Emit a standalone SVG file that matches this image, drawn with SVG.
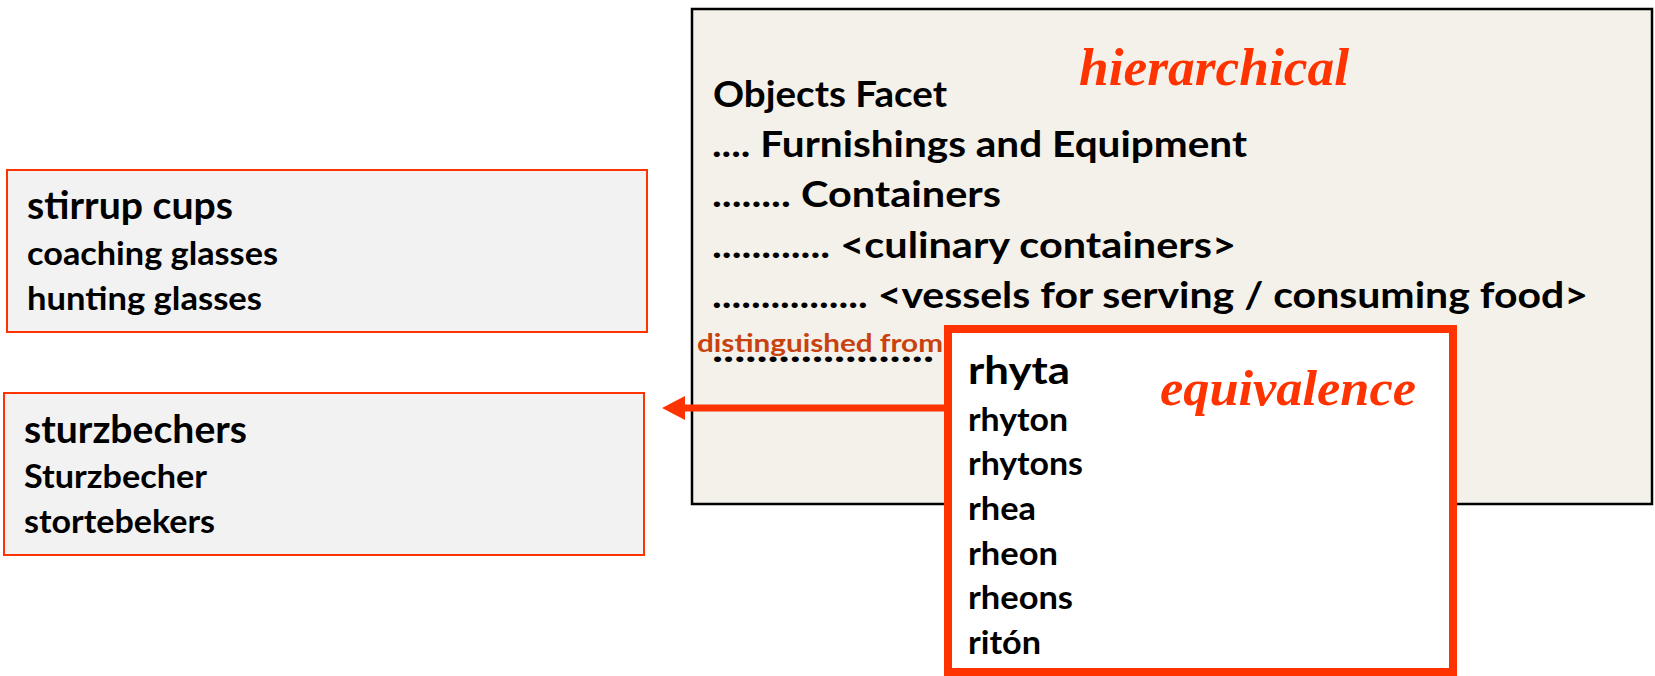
<svg xmlns="http://www.w3.org/2000/svg" width="1655" height="676" viewBox="0 0 1655 676">
<style>
.t{font-family:Lato,"Liberation Sans",sans-serif;font-weight:700;fill:#000}
.big{font-size:37px}
.ttl{font-size:39px}
.sub{font-size:33px}
.it{font-family:"Liberation Serif",serif;font-style:italic;font-weight:700;fill:#FF3300}
.side{fill:#F2F2F2;stroke:#FF3300;stroke-width:2}
</style>
<defs>
<marker id="ah" markerUnits="userSpaceOnUse" markerWidth="24" markerHeight="26" refX="1" refY="12" orient="auto">
<path d="M0,0 L23,12 L0,24 Z" fill="#FF3300"/>
</marker>
</defs>
<rect width="1655" height="676" fill="#fff"/>
<g id="hierarchy">
<rect x="692" y="9" width="960" height="495" fill="#F4F1EA" stroke="#000" stroke-width="2.5"/>
<text class="it" x="1079" y="85" font-size="52" textLength="270" lengthAdjust="spacingAndGlyphs">hierarchical</text>
<text class="t big" x="713" y="107" textLength="234" lengthAdjust="spacingAndGlyphs">Objects Facet</text>
<text class="t big" x="712" y="157" textLength="535" lengthAdjust="spacingAndGlyphs">.... Furnishings and Equipment</text>
<text class="t big" x="712" y="207" textLength="289" lengthAdjust="spacingAndGlyphs">........ Containers</text>
<text class="t big" x="712" y="258" textLength="524" lengthAdjust="spacingAndGlyphs">............ &lt;culinary containers&gt;</text>
<text class="t big" x="712" y="308" textLength="876" lengthAdjust="spacingAndGlyphs">................ &lt;vessels for serving / consuming food&gt;</text>
<text class="t big" x="712" y="362" textLength="222" lengthAdjust="spacingAndGlyphs">....................</text>
<text x="697" y="352" font-family="Lato,'Liberation Sans',sans-serif" font-weight="700" font-size="25" fill="#C8410E" textLength="246" lengthAdjust="spacingAndGlyphs">distinguished from</text>
</g>
<g id="stirrup">
<rect class="side" x="7" y="170" width="640" height="162"/>
<text class="t ttl" x="27" y="219" textLength="206" lengthAdjust="spacingAndGlyphs">stirrup cups</text>
<text class="t sub" x="27" y="265" textLength="251" lengthAdjust="spacingAndGlyphs">coaching glasses</text>
<text class="t sub" x="27" y="310" textLength="235" lengthAdjust="spacingAndGlyphs">hunting glasses</text>
</g>
<g id="sturz">
<rect class="side" x="4" y="393" width="640" height="162"/>
<text class="t ttl" x="24" y="443" textLength="223" lengthAdjust="spacingAndGlyphs">sturzbechers</text>
<text class="t sub" x="24" y="488" textLength="183" lengthAdjust="spacingAndGlyphs">Sturzbecher</text>
<text class="t sub" x="24" y="533" textLength="191" lengthAdjust="spacingAndGlyphs">stortebekers</text>
</g>
<g id="connectors">
<line x1="945" y1="408" x2="684" y2="408" stroke="#FF3300" stroke-width="7" marker-end="url(#ah)"/>
</g>
<g id="rhyta">
<rect x="948" y="329" width="505" height="343" fill="#fff" stroke="#FF3300" stroke-width="8"/>
<text class="t ttl" x="968" y="384" textLength="102" lengthAdjust="spacingAndGlyphs">rhyta</text>
<text class="it" x="1160" y="405" font-size="50" textLength="256" lengthAdjust="spacingAndGlyphs">equivalence</text>
<text class="t sub" x="968" y="431" textLength="100" lengthAdjust="spacingAndGlyphs">rhyton</text>
<text class="t sub" x="968" y="475" textLength="115" lengthAdjust="spacingAndGlyphs">rhytons</text>
<text class="t sub" x="968" y="520" textLength="68" lengthAdjust="spacingAndGlyphs">rhea</text>
<text class="t sub" x="968" y="565" textLength="90" lengthAdjust="spacingAndGlyphs">rheon</text>
<text class="t sub" x="968" y="609" textLength="105" lengthAdjust="spacingAndGlyphs">rheons</text>
<text class="t sub" x="968" y="654" textLength="73" lengthAdjust="spacingAndGlyphs">ritón</text>
</g>
</svg>
